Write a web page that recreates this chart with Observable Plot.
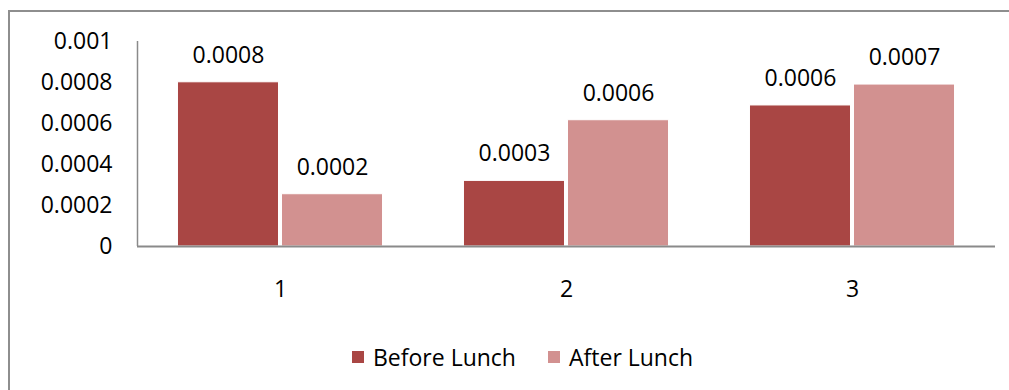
<!DOCTYPE html>
<html>
<head>
<meta charset="utf-8">
<script src="https://cdn.jsdelivr.net/npm/d3@7"></script>
<script src="https://cdn.jsdelivr.net/npm/@observablehq/plot@0.6"></script>
<style>
  html, body { margin: 0; padding: 0; background: #fff; }
  #wrap { position: relative; width: 1009px; height: 390px; overflow: hidden; background: #fff; font-family: 'Open Sans', sans-serif; }
  #border { position: absolute; left: 8px; top: 10px; width: 1100px; height: 500px; border-top: 2px solid #8e8e8e; border-left: 2px solid #8e8e8e; }
  #chart { position: absolute; left: 0; top: 0; }
  #legend { position: absolute; left: 352px; top: 341px; display: flex; align-items: center; font-size: 23px; color: #000; white-space: nowrap; }
  .item { display: flex; align-items: center; }
  .sw { width: 12px; height: 12px; margin-right: 9px; }
</style>
</head>
<body>
<div id="wrap">
  <div id="border"></div>
  <div id="chart"></div>
  <div id="legend"></div>
</div>
<script>
const categories = ["1", "2", "3"];
const series = ["Before Lunch", "After Lunch"];
const beforeValues = [0.000801, 0.00032, 0.000688];
const afterValues = [0.000255, 0.000616, 0.00079];
const beforeLabels = ["0.0008", "0.0003", "0.0006"];
const afterLabels = ["0.0002", "0.0006", "0.0007"];
const yTicks = [0, 0.0002, 0.0004, 0.0006, 0.0008, 0.001];
const yTickLabels = ["0", "0.0002", "0.0004", "0.0006", "0.0008", "0.001"];
const colors = ["#A94644", "#D29190"];

// grouped-bar layout (in category units): group width and gap between the two bars
const groupWidth = 0.717;
const gap = 0.0105;

const data = [];
categories.forEach((c, i) => {
  const pos = i + 1;
  const half = groupWidth / 2;
  data.push({cat: c, series: series[0], value: beforeValues[i], label: beforeLabels[i],
             x1: pos - half, x2: pos - gap / 2});
  data.push({cat: c, series: series[1], value: afterValues[i], label: afterLabels[i],
             x1: pos + gap / 2, x2: pos + half});
});

const chart = Plot.plot({
  width: 1009,
  height: 320,
  marginLeft: 137,
  marginRight: 14,
  marginTop: 41,
  marginBottom: 74,
  style: {fontFamily: "'Open Sans', sans-serif", fontSize: "23px", background: "transparent", color: "#000"},
  x: {type: "linear", domain: [0.5, categories.length + 0.5]},
  y: {domain: [0, 0.001]},
  color: {domain: series, range: colors},
  marks: [
    Plot.rectY(data, {x1: "x1", x2: "x2", y: "value", fill: "series", stroke: "white", strokeWidth: 1}),
    Plot.text(data, {x: d => (d.x1 + d.x2) / 2, y: "value", text: "label", dy: -27, fill: "#000", fontSize: 23}),
    Plot.ruleY([0], {stroke: "#8a8a8a", strokeWidth: 2}),
    Plot.ruleX([0.5], {stroke: "#8a8a8a", strokeWidth: 1.5}),
    Plot.axisY({ticks: yTicks, tickFormat: d => yTickLabels[yTicks.indexOf(d)] ?? "", tickSize: 0, tickPadding: 25, fontSize: 23, label: null, fill: "#000"}),
    Plot.axisX({ticks: categories.map((c, i) => i + 1), tickFormat: d => categories[d - 1], tickSize: 0, tickPadding: 34, fontSize: 23, label: null, fill: "#000"})
  ]
});
document.getElementById("chart").appendChild(chart);

const legend = document.getElementById("legend");
series.forEach((s, i) => {
  const item = document.createElement("div");
  item.className = "item";
  if (i > 0) item.style.marginLeft = "32px";
  const sw = document.createElement("div");
  sw.className = "sw";
  sw.style.background = colors[i];
  const t = document.createElement("span");
  t.textContent = s;
  item.appendChild(sw);
  item.appendChild(t);
  legend.appendChild(item);
});
</script>
</body>
</html>
